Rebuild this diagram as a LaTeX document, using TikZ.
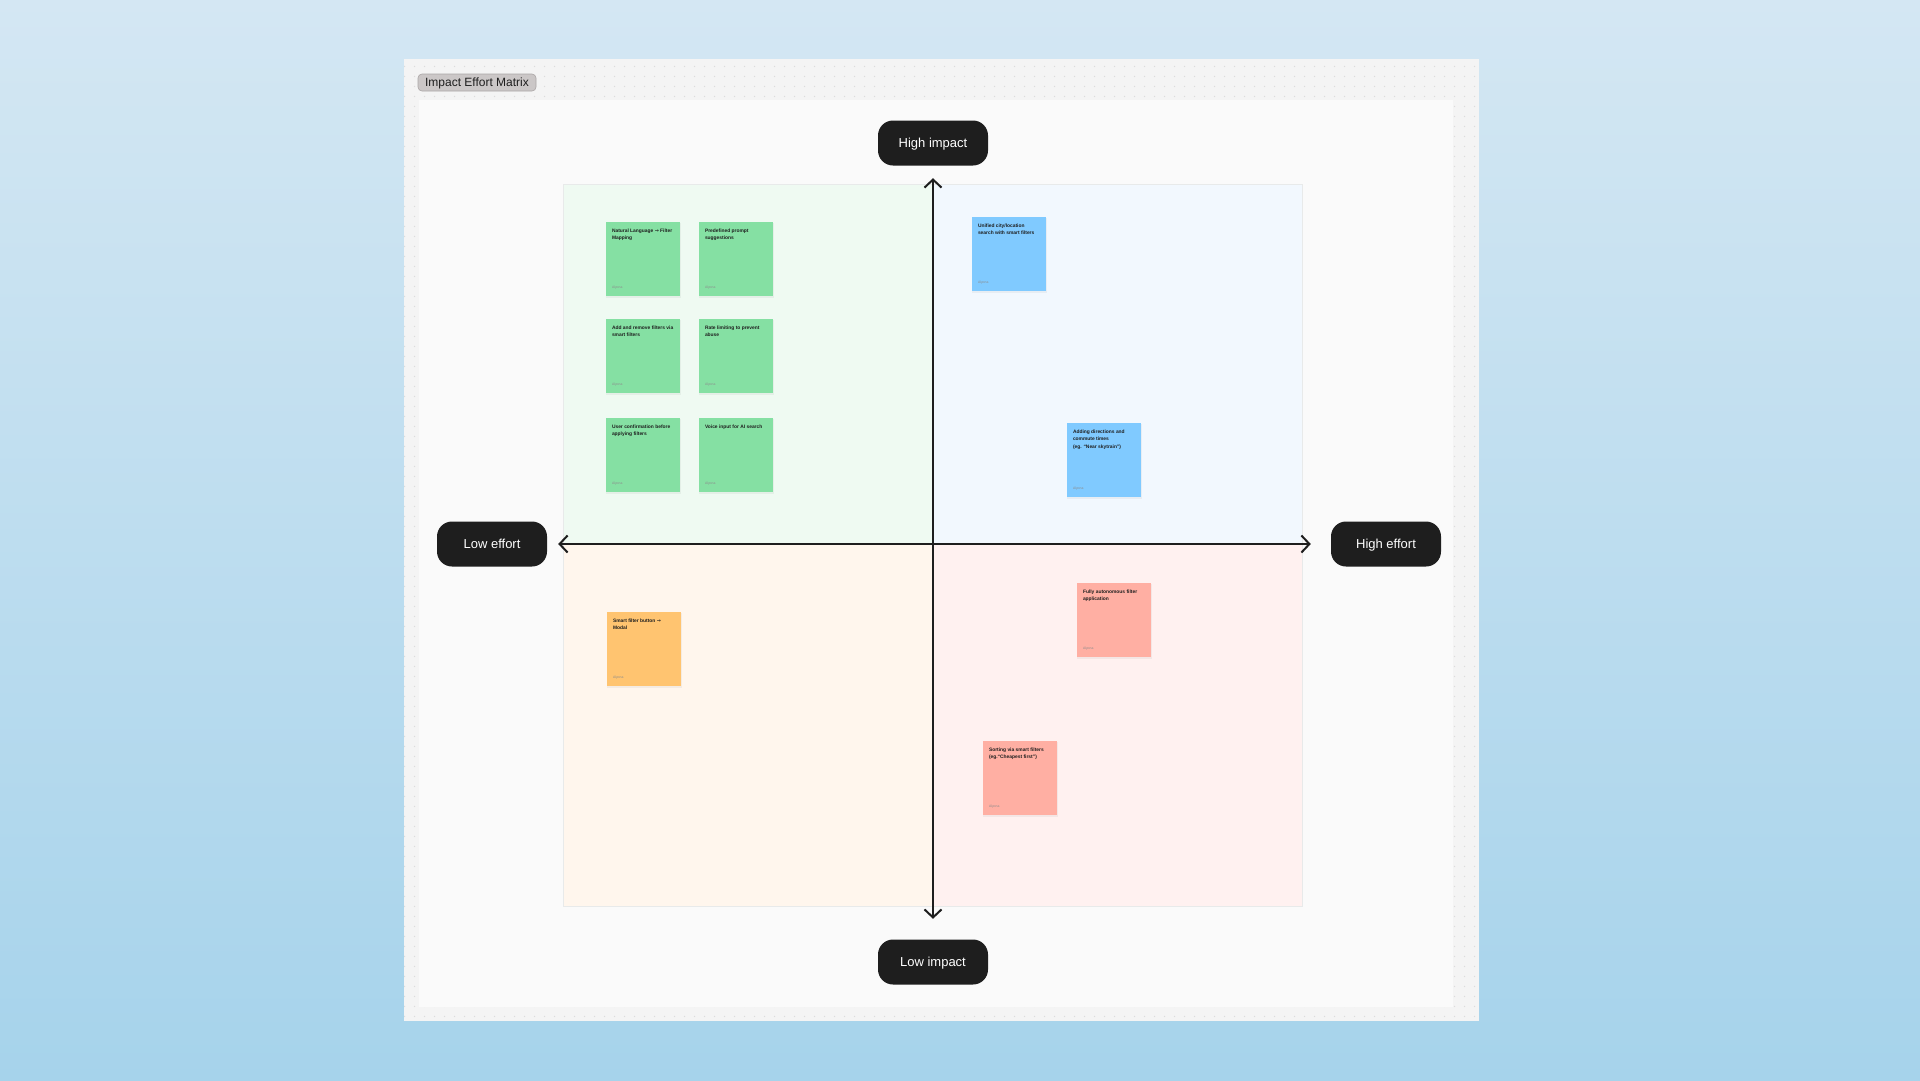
\documentclass[tikz,border=0pt]{standalone}
\usepackage{fontspec}
\setmainfont{Liberation Sans}
\newfontfamily\arrowfont{DejaVu Sans}
\usepackage{xcolor}
\usetikzlibrary{arrows.meta, positioning, patterns.meta}

\definecolor{skyTop}{RGB}{212,231,243}
\definecolor{skyBottom}{RGB}{166,211,235}
\definecolor{boardGray}{RGB}{244,244,244}
\definecolor{panelGray}{RGB}{250,250,250}
\definecolor{dotGray}{RGB}{220,220,220}
\definecolor{pillBlack}{RGB}{30,30,30}
\definecolor{tagGray}{RGB}{203,199,199}
\definecolor{tagEdge}{RGB}{170,165,165}
\definecolor{quadGreen}{RGB}{239,250,242}
\definecolor{quadBlue}{RGB}{242,248,254}
\definecolor{quadOrange}{RGB}{255,246,237}
\definecolor{quadRed}{RGB}{255,241,240}
\definecolor{quadEdge}{RGB}{232,234,234}
\definecolor{noteGreen}{RGB}{133,224,163}
\definecolor{noteBlue}{RGB}{128,202,255}
\definecolor{noteOrange}{RGB}{255,196,112}
\definecolor{noteRed}{RGB}{255,175,163}

\tikzdeclarepattern{
  name=boarddots,
  type=uncolored,
  bounding box={(0pt,0pt) and (10pt,10pt)},
  tile size={(10pt,10pt)},
  code={\fill (5pt,5pt) circle (0.8pt);}
}

\tikzset{
    axisPill/.style={rectangle, rounded corners=15pt, fill=pillBlack, text=white,
        minimum width=110pt, minimum height=45pt, inner sep=0pt,
        text height=9.4pt, text depth=0pt,
        font=\fontsize{13}{15}\selectfont},
    boardTag/.style={rectangle, rounded corners=4pt, fill=tagGray, draw=tagEdge, line width=0.6pt,
        minimum width=118pt, minimum height=17pt, inner sep=0pt, text=pillBlack,
        text height=8.4pt, text depth=0pt,
        font=\fontsize{12}{13}\selectfont},
    axisArrow/.style={{Straight Barb[length=8pt,width=17pt]}-{Straight Barb[length=8pt,width=17pt]},
        line width=2pt, draw=pillBlack},
    sticky/.style={rectangle, minimum width=74pt, minimum height=74pt, inner sep=0pt},
    stickyText/.style={anchor=north west, inner sep=0pt, align=left, text=pillBlack,
        font=\fontsize{4.9}{7.3}\selectfont\bfseries},
    stickyFoot/.style={anchor=west, inner sep=0pt, text=black!45,
        font=\fontsize{3.4}{4}\selectfont}
}

% name, left, top, colour, text
\newcommand{\stickynote}[5]{%
    \fill[black, opacity=0.045] (#2-0.5,#3+1) rectangle ++(75,75);
    \node[sticky, fill=#4] (#1) at (#2+37,#3+37) {};
    \node[stickyText] at ([xshift=6pt,yshift=-7pt]#1.north west) {#5};
    \node[stickyFoot] at ([xshift=6pt,yshift=9pt]#1.south west) {Alyona};
}

\begin{document}
\begin{tikzpicture}[x=1pt, y=-1pt]
    \useasboundingbox (0,0) rectangle (1920,1080);
    \shade[top color=skyTop, bottom color=skyBottom] (0,0) rectangle (1920,1080);

    % board with dotted frame
    \fill[boardGray] (404,59) rectangle (1479,1021);
    \fill[pattern=boarddots, pattern color=dotGray] (404,59) rectangle (1479,1021);
    \fill[panelGray] (419,100) rectangle (1453,1007);
    \node[boardTag] (title) at (477,82.5) {Impact Effort Matrix};

    % quadrants
    \fill[quadGreen]  (563,184) rectangle (932,544);
    \fill[quadBlue]   (932,184) rectangle (1302,544);
    \fill[quadOrange] (563,544) rectangle (932,906);
    \fill[quadRed]    (932,544) rectangle (1302,906);
    \draw[quadEdge, line width=0.8pt] (563,184) rectangle (1302,906);

    % axis labels
    \node[axisPill] (highImpact) at (933,143) {High impact};
    \node[axisPill] (lowImpact)  at (933,962) {Low impact};
    \node[axisPill] (lowEffort)  at (492,544) {Low effort};
    \node[axisPill] (highEffort) at (1386,544) {High effort};

    \coordinate (impactTop) at ([yshift=-12.5pt]highImpact.south);
    \coordinate (impactBot) at ([yshift=20.5pt]lowImpact.north);
    \coordinate (effortLeft)  at ([xshift=11pt]lowEffort.east);
    \coordinate (effortRight) at ([xshift=-20pt]highEffort.west);
    \draw[axisArrow] (effortLeft) -- (effortRight);
    \draw[axisArrow] (impactBot) -- (impactTop);

    % quick wins
    \stickynote{nlMap}{606}{222}{noteGreen}{Natural Language {\arrowfont →} Filter\\Mapping}
    \stickynote{prompts}{699}{222}{noteGreen}{Predefined prompt\\suggestions}
    \stickynote{addRemove}{606}{319}{noteGreen}{Add and remove filters via\\smart filters}
    \stickynote{rateLimit}{699}{319}{noteGreen}{Rate limiting to prevent\\abuse}
    \stickynote{confirm}{606}{418}{noteGreen}{User confirmation before\\applying filters}
    \stickynote{voice}{699}{418}{noteGreen}{Voice input for AI search}

    % major projects
    \stickynote{unified}{972}{217}{noteBlue}{Unified city/location\\search with smart filters}
    \stickynote{commute}{1067}{423}{noteBlue}{Adding directions and\\commute times\\(eg. “Near skytrain”)}

    % fill-ins
    \stickynote{modal}{607}{612}{noteOrange}{Smart filter button {\arrowfont →}\\Modal}

    % thankless tasks
    \stickynote{autonomous}{1077}{583}{noteRed}{Fully autonomous filter\\application}
    \stickynote{sorting}{983}{741}{noteRed}{Sorting via smart filters\\(eg.“Cheapest first”)}
\end{tikzpicture}
\end{document}
